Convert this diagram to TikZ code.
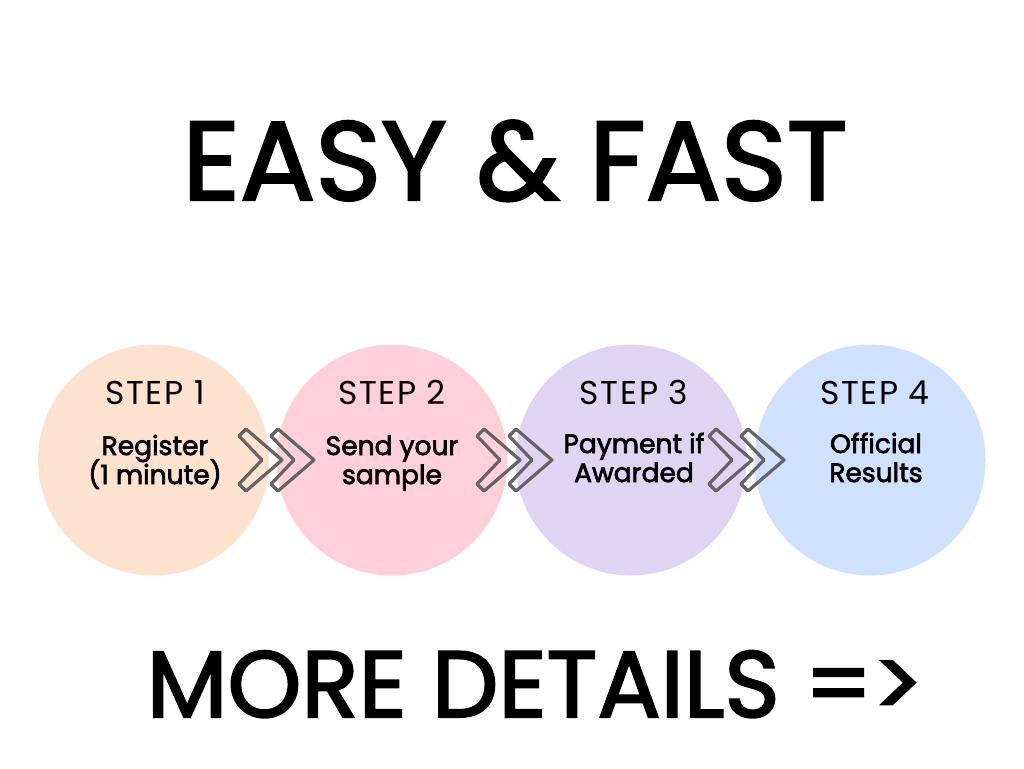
\documentclass[tikz,border=0pt]{standalone}
\usepackage{fontspec}
\setmainfont{Poppins}
\newfontfamily\titlefont{Poppins}[FakeBold=2.2]
\newfontfamily\bodyfont{Poppins}[FakeBold=2.6]
\newfontfamily\labelfont{Poppins}[LetterSpace=5]
\begin{document}
\begin{tikzpicture}[x=1pt,y=-1pt]
\definecolor{peach}{RGB}{254,226,208}
\definecolor{pinkc}{RGB}{255,208,220}
\definecolor{lav}{RGB}{224,212,243}
\definecolor{bluec}{RGB}{208,225,253}
\definecolor{chevc}{RGB}{100,100,100}
\tikzset{
  stepcircle/.style={circle, minimum size=231pt, inner sep=0pt},
  steplabel/.style={font=\labelfont\fontsize{33}{33}\selectfont, inner sep=0pt, anchor=base},
  stepbody/.style={font=\bodyfont\fontsize{26.5}{29}\selectfont, inner sep=0pt, anchor=base},
  chev/.style={draw=chevc, line width=3.2pt, line join=round}
}
\useasboundingbox (0,0) rectangle (1024,768);
\fill[white] (0,0) rectangle (1024,768);
\node[stepcircle, fill=peach] (c1) at (153.5,460) {};
\node[stepcircle, fill=pinkc] (c2) at (392,460) {};
\node[stepcircle, fill=lav] (c3) at (631,460) {};
\node[stepcircle, fill=bluec] (c4) at (870,460) {};

\node[font=\titlefont\fontsize{112}{112}\selectfont, anchor=base, inner sep=0pt] (title) at (515,200) {EASY \& FAST};
\node[font=\titlefont\fontsize{94}{94}\selectfont, anchor=base, inner sep=0pt] (more) at (535,717) {MORE DETAILS =>};

\node[steplabel] (s1) at (155,404) {STEP 1};
\node[steplabel] (s2) at (392,404) {STEP 2};
\node[steplabel] (s3) at (634,404) {STEP 3};
\node[steplabel] (s4) at (875,404) {STEP 4};

\node[stepbody] (b1a) at (155,455) {Register};
\node[stepbody] (b1b) at (155,484) {(1 minute)};
\node[stepbody] (b2a) at (392,455) {Send your};
\node[stepbody] (b2b) at (392,484) {sample};
\node[stepbody] (b3a) at (634,453) {Payment if};
\node[stepbody] (b3b) at (634,482) {Awarded};
\node[stepbody] (b4a) at (876,453) {Official};
\node[stepbody] (b4b) at (876,482) {Results};

\foreach \t in {282,314,520,552,752,784}{
  \draw[chev] (\t,460) -- ++(-36,-31) -- ++(-7,7) -- ++(23,24) -- ++(-23,24) -- ++(7,7) -- cycle;
}
\end{tikzpicture}
\end{document}
